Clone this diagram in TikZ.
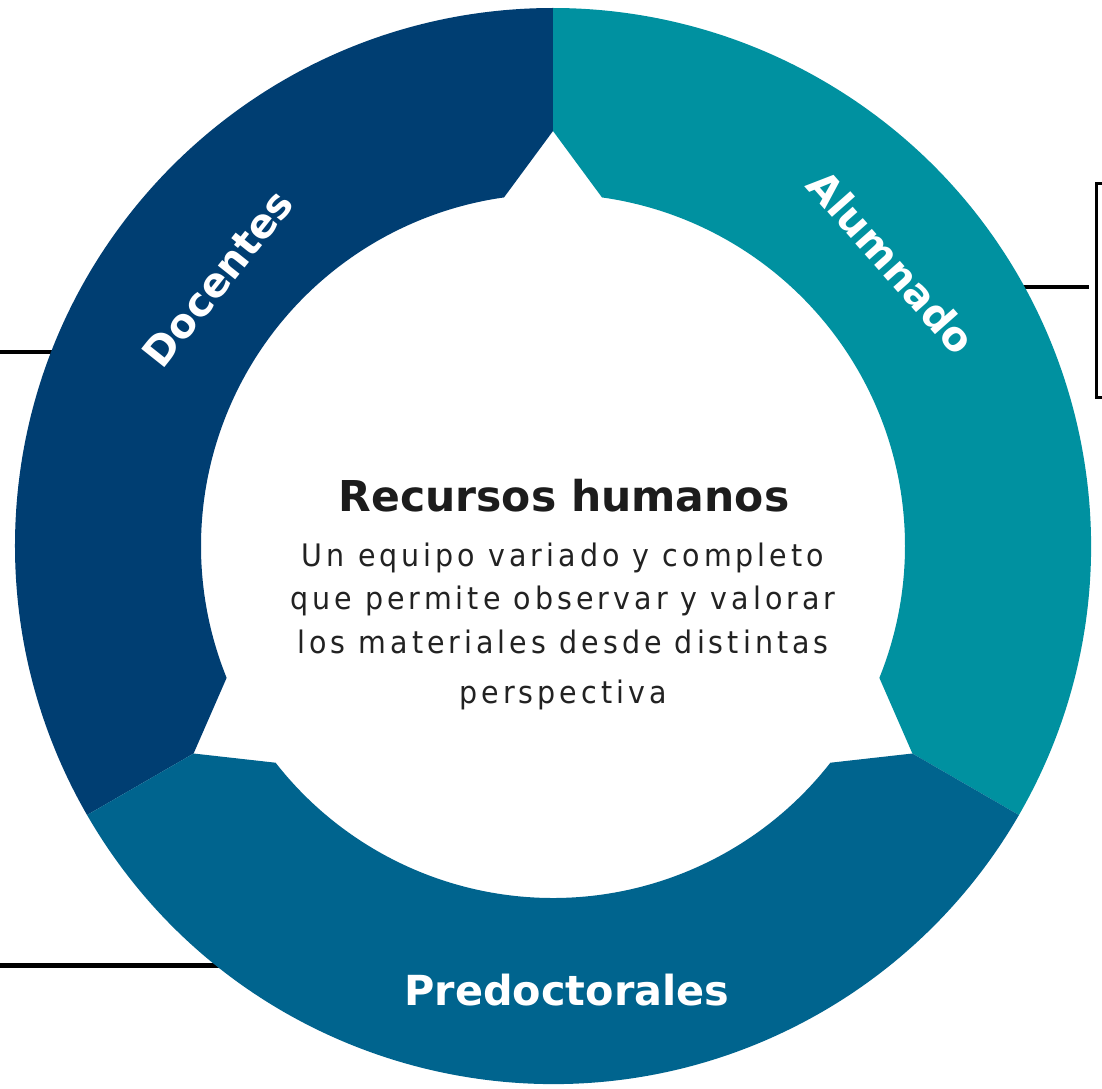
\documentclass[tikz,border=0pt]{standalone}
\usepackage{fontspec}
\setmainfont{DejaVu Sans}
\newfontfamily\bodyfont[LetterSpace=13,FakeStretch=0.92]{DejaVu Sans}
\definecolor{docblue}{RGB}{0,62,114}
\definecolor{alumteal}{RGB}{0,145,160}
\definecolor{predblue}{RGB}{0,100,142}
\definecolor{titlegray}{RGB}{28,28,28}
\definecolor{bodygray}{RGB}{34,34,34}
\tikzset{
  segtext/.style={text=white, font=\fontsize{40.5}{42}\selectfont\bfseries, inner sep=0pt, anchor=center},
  bodyline/.style={text=bodygray, font=\fontsize{31}{33}\selectfont\bodyfont, inner sep=0pt, anchor=base},
  stub/.style={draw=black}
}
\begin{document}
\begin{tikzpicture}[x=1pt,y=1pt]
\useasboundingbox (-553pt,-542pt) rectangle (549pt,546pt);
\fill[white] (-553pt,-542pt) rectangle (549pt,546pt);
% stray lines behind the ring
\coordinate (l1a) at (-560pt,194pt); \coordinate (l1b) at (-470pt,194pt);
\coordinate (l2a) at (-560pt,-419pt); \coordinate (l2b) at (-300pt,-419pt);
\coordinate (l3a) at (460pt,259pt); \coordinate (l3b) at (536pt,259pt);
\draw[stub, line width=4pt] (l1a) -- (l1b);
\draw[stub, line width=5pt] (l2a) -- (l2b);
\draw[stub, line width=4pt] (l3a) -- (l3b);
\draw[stub, line width=3pt] (560pt,363pt) -- (543pt,363pt) -- (543pt,149pt) -- (560pt,149pt);
% segments
\fill[docblue] (90:538pt) arc[start angle=90,end angle=210,radius=538pt] -- (210:415pt) -- (202:352pt) arc[start angle=202,end angle=98,radius=352pt] -- (90:415pt) -- cycle;
\fill[alumteal] (-30:538pt) arc[start angle=-30,end angle=90,radius=538pt] -- (90:415pt) -- (82:352pt) arc[start angle=82,end angle=-22,radius=352pt] -- (-30:415pt) -- cycle;
\fill[predblue] (210:538pt) arc[start angle=210,end angle=330,radius=538pt] -- (330:415pt) -- (322:352pt) arc[start angle=322,end angle=218,radius=352pt] -- (210:415pt) -- cycle;
% labels
\node[segtext, rotate=51.5] (doc) at (141.4:429pt) {Docentes};
\node[segtext, rotate=-48.5] (alu) at (40:442pt) {Alumnado};
\node[segtext, font=\fontsize{41.4}{44}\selectfont\bfseries] (pre) at (14pt,-444pt) {Predoctorales};
\node[text=titlegray, font=\fontsize{42.5}{45}\selectfont\bfseries, inner sep=0pt, anchor=base] (title) at (11pt,35pt) {Recursos humanos};
\node[bodyline] (b1) at (10pt,-20pt) {Un equipo variado y completo};
\node[bodyline] (b2) at (10pt,-63.5pt) {que permite observar y valorar};
\node[bodyline] (b3) at (10pt,-107pt) {los materiales desde distintas};
\node[bodyline] (b4) at (10pt,-157pt) {perspectiva};
\end{tikzpicture}
\end{document}
